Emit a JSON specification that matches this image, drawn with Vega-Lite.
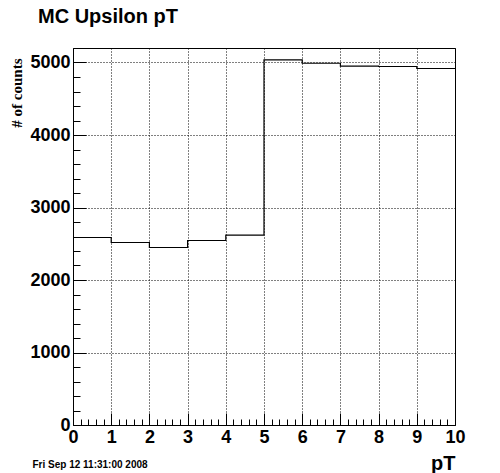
{
  "$schema": "https://vega.github.io/schema/vega-lite/v6.json",
  "width": 382,
  "height": 377,
  "autosize": "none",
  "padding": {"left": 73, "top": 48, "right": 45, "bottom": 48},
  "background": "white",
  "config": {"view": {"stroke": "black", "strokeWidth": 1}, "font": "Liberation Sans"},
  "title": {"text": "MC Upsilon pT", "anchor": "start", "frame": "group", "dx": -35, "offset": 5, "baseline": "alphabetic", "fontSize": 20, "fontWeight": "bold", "font": "Liberation Sans", "color": "black"},
  "data": {"values": [
    {"pT": 0, "counts": 2586},
    {"pT": 1, "counts": 2517},
    {"pT": 2, "counts": 2448},
    {"pT": 3, "counts": 2545},
    {"pT": 4, "counts": 2618},
    {"pT": 5, "counts": 5036},
    {"pT": 6, "counts": 4990},
    {"pT": 7, "counts": 4949},
    {"pT": 8, "counts": 4945},
    {"pT": 9, "counts": 4917},
    {"pT": 10, "counts": 4917}
  ]},
  "layer": [
    {
      "mark": {"type": "line", "interpolate": "step-after", "color": "black", "strokeWidth": 1.2},
      "encoding": {
        "x": {"field": "pT", "type": "quantitative", "scale": {"domain": [0, 10], "nice": false, "zero": false},
          "axis": {"orient": "bottom", "values": [0,1,2,3,4,5,6,7,8,9,10], "format": "d", "tickSize": -12, "tickColor": "black", "tickWidth": 1, "labelPadding": 15, "labelFont": "Liberation Sans", "labelFontSize": 18, "labelFontWeight": "bold", "labelColor": "black", "labelFlush": false, "labelOverlap": false, "domain": false,
            "grid": true, "gridColor": "black", "gridDash": [1, 2], "gridOpacity": 1, "gridWidth": 1,
            "title": "pT", "titleFont": "Liberation Sans", "titleFontSize": 20, "titleFontWeight": "bold", "titleColor": "black", "titleX": 382, "titleY": 44, "titleAlign": "right", "titleBaseline": "alphabetic"}},
        "y": {"field": "counts", "type": "quantitative", "scale": {"domain": [0, 5200], "nice": false},
          "axis": {"orient": "left", "values": [0,1000,2000,3000,4000,5000], "format": "d", "tickSize": -13, "tickColor": "black", "tickWidth": 1, "labelPadding": 16, "labelFont": "Liberation Sans", "labelFontSize": 18, "labelFontWeight": "bold", "labelColor": "black", "labelOverlap": false, "domain": false,
            "grid": true, "gridColor": "black", "gridDash": [1, 2], "gridOpacity": 1, "gridWidth": 1,
            "title": "# of counts", "titleFont": "Liberation Serif", "titleFontSize": 15, "titleFontWeight": "bold", "titleColor": "black", "titleAngle": -90, "titleX": -52, "titleY": 10, "titleAlign": "right", "titleBaseline": "alphabetic"}}
      }
    },
    {
      "mark": {"type": "line", "opacity": 0},
      "encoding": {
        "x": {"field": "pT", "type": "quantitative",
          "axis": {"orient": "bottom", "values": [0.2,0.4,0.6,0.8,1.2,1.4,1.6,1.8,2.2,2.4,2.6,2.8,3.2,3.4,3.6,3.8,4.2,4.4,4.6,4.8,5.2,5.4,5.6,5.8,6.2,6.4,6.6,6.8,7.2,7.4,7.6,7.8,8.2,8.4,8.6,8.8,9.2,9.4,9.6,9.8], "tickSize": -6, "tickColor": "black", "tickWidth": 1, "labels": false, "domain": false, "grid": false,
            "title": "Fri Sep 12 11:31:00 2008", "titleFont": "Liberation Sans", "titleFontSize": 10, "titleFontWeight": "bold", "titleColor": "black", "titleX": -41, "titleY": 42, "titleAlign": "left", "titleBaseline": "alphabetic"}},
        "y": {"field": "counts", "type": "quantitative",
          "axis": {"orient": "left", "values": [200,400,600,800,1200,1400,1600,1800,2200,2400,2600,2800,3200,3400,3600,3800,4200,4400,4600,4800,5200], "tickSize": -7, "tickColor": "black", "tickWidth": 1, "labels": false, "domain": false, "grid": false, "title": null}}
      }
    }
  ],
  "resolve": {"axis": {"x": "independent", "y": "independent"}}
}
